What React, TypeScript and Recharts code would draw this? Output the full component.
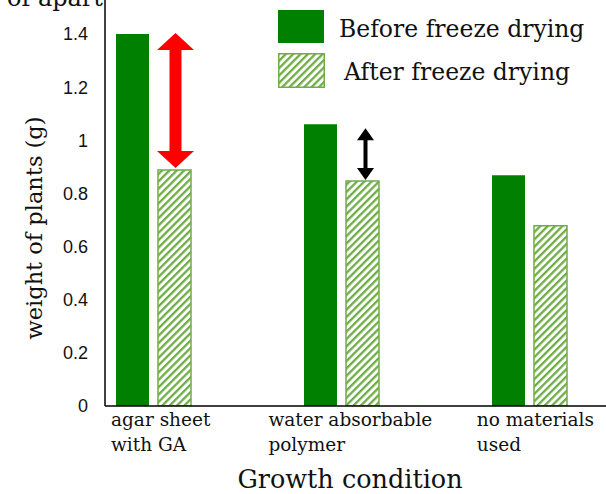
import { BarChart, Bar, XAxis, YAxis } from "recharts";

// categories (line breaks as in the original labels)
const categories = ["agar sheet\nwith GA", "water absorbable\npolymer", "no materials\nused"];
const beforeFreezeDrying = [1.4, 1.06, 0.868];
const afterFreezeDrying = [0.888, 0.847, 0.678];
const yTicks = [0, 0.2, 0.4, 0.6, 0.8, 1, 1.2, 1.4];
const seriesNames = ["Before freeze drying", "After freeze drying"];
// which categories get a "difference" arrow
const arrowCategories = [0, 1];

const data = categories.map((name, i) => ({
  name,
  before: beforeFreezeDrying[i],
  after: afterFreezeDrying[i],
}));

const SERIF = "'DejaVu Serif', serif";
const DARK = "#008000";
const LIGHT = "#70AD47";

// arrow looks, one per entry of arrowCategories
const ARROW_STYLES = [
  { color: "#ff0000", shaft: 12, headW: 37, headH: 17, topGap: -1, bottomGap: 2, dx: 1 },
  { color: "#000000", shaft: 4, headW: 17, headH: 12, topGap: 4, bottomGap: 1, dx: 3 },
];

const renderArrow = (props: any) => {
  const { x, y, width, height, index } = props;
  const k = arrowCategories.indexOf(index);
  if (k < 0) return null;
  const st = ARROW_STYLES[k];
  // px per unit from the bar itself, so the arrow follows the y scale
  const unit = Number(height) / afterFreezeDrying[index];
  const base = Number(y) + Number(height);
  const t = base - beforeFreezeDrying[index] * unit + st.topGap;
  const b = Number(y) - st.bottomGap;
  const cx = Number(x) + Number(width) / 2 + st.dx;
  const hw = st.headW / 2;
  const s = st.shaft / 2;
  const pts = [
    [cx, t],
    [cx + hw, t + st.headH],
    [cx + s, t + st.headH],
    [cx + s, b - st.headH],
    [cx + hw, b - st.headH],
    [cx, b],
    [cx - hw, b - st.headH],
    [cx - s, b - st.headH],
    [cx - s, t + st.headH],
    [cx - hw, t + st.headH],
  ]
    .map((p) => p.join(","))
    .join(" ");
  return <polygon key={`arrow-${index}`} points={pts} fill={st.color} />;
};

const CHAR_W = 10.2;

const CategoryTick = ({ x, y, payload }: any) => {
  const lines = String(payload.value).split("\n");
  const blockW = Math.max(...lines.map((l) => l.length)) * CHAR_W;
  const left = x + 9 - blockW / 2;
  return (
    <text x={left} y={y + 20} fontFamily={SERIF} fontSize={18.5} fill="#111">
      {lines.map((l, i) => (
        <tspan key={i} x={left} dy={i === 0 ? 0 : 25}>
          {l}
        </tspan>
      ))}
    </text>
  );
};

export default function App() {
  return (
    <div style={{ position: "absolute", left: 0, top: 0, width: 606, height: 494, background: "#fff" }}>
      <svg width={606} height={494} style={{ position: "absolute", left: 0, top: 0, pointerEvents: "none", zIndex: 2 }}>
        <defs>
          <pattern id="hatch" patternUnits="userSpaceOnUse" width={5.2} height={5.2} patternTransform="rotate(45)">
            <rect width={5.2} height={5.2} fill="#fff" />
            <rect width={2.3} height={5.2} fill={LIGHT} />
          </pattern>
        </defs>
        {/* title cut off by the crop, as in the source image */}
        <text x={103} y={6} textAnchor="end" fontFamily={SERIF} fontSize={24} fill="#111">
          r of apart
        </text>
        {/* legend */}
        <rect x={278} y={10} width={46} height={33} fill={DARK} />
        <text x={339} y={37} fontFamily={SERIF} fontSize={23.5} fill="#111">
          {seriesNames[0]}
        </text>
        <rect x={278.75} y={53.75} width={45.5} height={33.5} fill="url(#hatch)" stroke={LIGHT} strokeWidth={1.5} />
        <text x={344} y={80} fontFamily={SERIF} fontSize={23.5} fill="#111">
          {seriesNames[1]}
        </text>
        {/* axis titles */}
        <text
          x={42}
          y={228}
          transform="rotate(-90 42 228)"
          textAnchor="middle"
          fontFamily={SERIF}
          fontSize={22.5}
          fill="#111"
        >
          weight of plants (g)
        </text>
        <text x={350} y={488} textAnchor="middle" fontFamily={SERIF} fontSize={25.5} fill="#111">
          Growth condition
        </text>
      </svg>
      <BarChart
        width={606}
        height={494}
        data={data}
        margin={{ top: 0, right: 0, bottom: 0, left: 0 }}
        barSize={33}
        barGap={9}
      >
        <XAxis
          dataKey="name"
          height={88}
          padding={{ left: -46, right: -17 }}
          axisLine={{ stroke: "#000", strokeWidth: 1.5 }}
          tickLine={false}
          tickSize={0}
          tickMargin={0}
          interval={0}
          tick={<CategoryTick />}
        />
        <YAxis
          width={105}
          domain={[0, 1.528]}
          ticks={yTicks}
          allowDataOverflow
          axisLine={{ stroke: "#000", strokeWidth: 1.5 }}
          tickLine={false}
          tickSize={0}
          tickMargin={17}
          tick={{ fill: "#111", fontSize: 18, fontFamily: "'Liberation Sans', Arial, sans-serif" }}
        />
        <Bar dataKey="before" fill={DARK} isAnimationActive={false} />
        <Bar
          dataKey="after"
          fill="url(#hatch)"
          stroke={LIGHT}
          strokeWidth={1.5}
          isAnimationActive={false}
          label={renderArrow}
        />
      </BarChart>
    </div>
  );
}
